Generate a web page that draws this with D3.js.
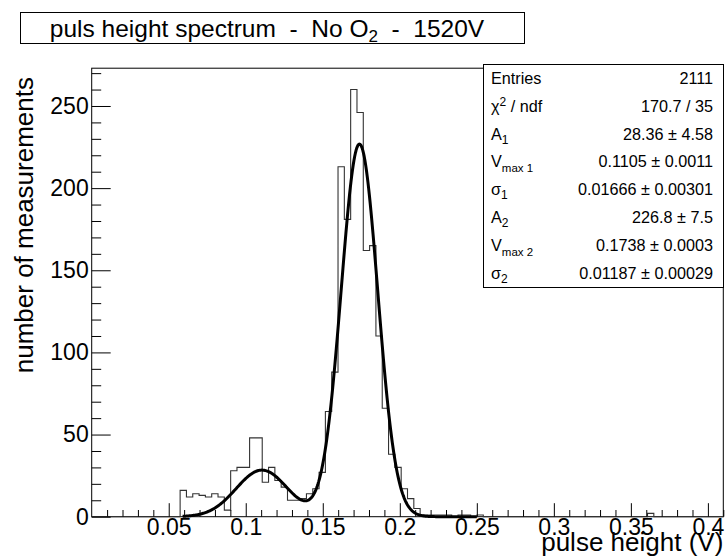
<!DOCTYPE html>
<html><head><meta charset="utf-8">
<script src="https://cdn.jsdelivr.net/npm/d3@7"></script>
<style>
body{margin:0;background:#fff}
svg{display:block}
text{font-family:"Liberation Sans",Arial,Helvetica,sans-serif;fill:#000}
</style>
</head><body>
<svg id="c" width="727" height="560"></svg>
<script>
// ---- data ----
const histLow = 0, histHigh = 0.41, binWidth = 0.0041;
const counts = [
  0,0,0,0,0,0,0,0,0,0,            // 0-9
  0,0,0,0,16,12,14,13,12,14,      // 10-19
  12,4,28,30,30,48,48,21,30,22,   // 20-29
  18,10,10,11,14,17,27,64,88,213, // 30-39
  181,260,246,162,165,110,66,38,30,17, // 40-49
  11,5,1,1,1,1,1,0,1,1,           // 50-59
  0,1,0,0,0,0,0,0,0,0,            // 60-69
  0,0,0,0,0,0,0,0,0,0,            // 70-79
  0,0,0,0,0,0,0,0,2,0,            // 80-89
  0,0,0,0,0,0,0,0,0,0             // 90-99
];
const xTickValues = [0.05,0.1,0.15,0.2,0.25,0.3,0.35,0.4];
const xTickLabels = ["0.05","0.1","0.15","0.2","0.25","0.3","0.35","0.4"];
const yTickValues = [0,50,100,150,200,250];
const yTickLabels = ["0","50","100","150","200","250"];
const yMax = 273;
// fit: double gaussian parameters (from stats box)
const fitAmp = [28.36, 226.8];
const fitMean = [0.1105, 0.1738];
const fitSigma = [0.01666, 0.01187];
const fitRange = [0.059, 0.25];
// stats box rows
const statLabels = ["Entries","chi2","A1","Vmax1","s1","A2","Vmax2","s2"];
const statValues = ["2111","170.7 / 35","28.36 ± 4.58","0.1105 ± 0.0011","0.01666 ± 0.00301","226.8 ± 7.5","0.1738 ± 0.0003","0.01187 ± 0.00029"];
const titleText = ["puls height spectrum  -  No O","2","  -  1520V"];
const xTitle = "pulse height (V)";
const yTitle = "number of measurements";

// ---- layout ----
const L = 91.7, R = 723.3, T = 68.2, B = 516.7;
const svg = d3.select("#c");
const x = d3.scaleLinear().domain([histLow, histHigh]).range([L, R]);
const y = d3.scaleLinear().domain([0, yMax]).range([B, T]);

// frame
svg.append("rect").attr("x", L).attr("y", T).attr("width", R - L).attr("height", B - T)
  .attr("fill", "none").attr("stroke", "#000").attr("stroke-width", 1);

// histogram outline
const pts = [];
counts.forEach((c, i) => {
  const lo = histLow + i * binWidth, hi = lo + binWidth;
  pts.push([lo, c], [hi, c]);
});
svg.append("path")
  .attr("d", d3.line().x(d => x(d[0])).y(d => y(d[1]))(pts))
  .attr("fill", "none").attr("stroke", "#333").attr("stroke-width", 1.1);

// fit curve
const fitX = d3.range(0, 401).map(k => fitRange[0] + (fitRange[1] - fitRange[0]) * k / 400);
const fitF = v => fitAmp.reduce((s, a, j) => s + a * Math.exp(-Math.pow(v - fitMean[j], 2) / (2 * fitSigma[j] * fitSigma[j])), 0);
svg.append("path")
  .attr("d", d3.line().x(d => x(d)).y(d => y(fitF(d)))(fitX))
  .attr("fill", "none").attr("stroke", "#000").attr("stroke-width", 3).attr("stroke-linejoin", "round");

// axes
const fs = 23;
const xMinor = d3.range(1, 42).map(k => k / 100).filter(v => v <= histHigh + 1e-9 && Math.abs(v * 20 - Math.round(v * 20)) > 1e-6);
const yMinor = d3.range(0, yMax, 10).filter(v => v % 50 !== 0);

const gx = svg.append("g").attr("transform", `translate(0,${B})`)
  .call(d3.axisBottom(x).tickValues(xTickValues).tickFormat((d, i) => xTickLabels[i]).tickSizeInner(-13.5).tickSizeOuter(0).tickPadding(2));
gx.select(".domain").remove();
gx.selectAll("text").attr("font-size", fs).attr("font-family", '"Liberation Sans",Arial,sans-serif');
const gxm = svg.append("g").attr("transform", `translate(0,${B})`)
  .call(d3.axisBottom(x).tickValues(xMinor).tickFormat("").tickSizeInner(-6.7).tickSizeOuter(0));
gxm.select(".domain").remove();

const gy = svg.append("g").attr("transform", `translate(${L},0)`)
  .call(d3.axisLeft(y).tickValues(yTickValues).tickFormat((d, i) => yTickLabels[i]).tickSizeInner(-19).tickSizeOuter(0).tickPadding(3));
gy.select(".domain").remove();
gy.selectAll("text").attr("font-size", fs).attr("font-family", '"Liberation Sans",Arial,sans-serif');
const gym = svg.append("g").attr("transform", `translate(${L},0)`)
  .call(d3.axisLeft(y).tickValues(yMinor).tickFormat("").tickSizeInner(-9.5).tickSizeOuter(0));
gym.select(".domain").remove();
svg.selectAll(".tick line").attr("stroke", "#000").attr("stroke-width", 1);

// axis titles
svg.append("text").attr("x", R).attr("y", 551).attr("text-anchor", "end").attr("font-size", 26).text(xTitle);
svg.append("text").attr("transform", `translate(33,77) rotate(-90)`).attr("text-anchor", "end").attr("font-size", 26).text(yTitle);

// title box
svg.append("rect").attr("x", 20.5).attr("y", 12.5).attr("width", 504).attr("height", 31)
  .attr("fill", "#fff").attr("stroke", "#000").attr("stroke-width", 1);
const tt = svg.append("text").attr("x", 267).attr("y", 37).attr("text-anchor", "middle")
  .attr("font-size", 24.5).style("white-space", "pre").attr("xml:space", "preserve");
tt.append("tspan").text(titleText[0]);
tt.append("tspan").attr("font-size", 17).attr("dy", 5).text(titleText[1]);
tt.append("tspan").attr("dy", -5).text(titleText[2]);

// stats box
const sb = {x0: 483, x1: 723, y0: 64, y1: 287};
svg.append("rect").attr("x", sb.x0 + 0.5).attr("y", sb.y0 + 0.5).attr("width", sb.x1 - sb.x0).attr("height", sb.y1 - sb.y0)
  .attr("fill", "#fff").attr("stroke", "#000").attr("stroke-width", 1);
const sfs = 16.2, subfs = 12, rowH = (sb.y1 - sb.y0) / statLabels.length;
statLabels.forEach((lab, i) => {
  const by = sb.y0 + rowH * i + rowH * 0.5 + sfs * 0.36;
  const t = svg.append("text").attr("x", sb.x0 + 8).attr("y", by).attr("font-size", sfs);
  if (lab === "Entries") t.text("Entries");
  else if (lab === "chi2") { t.append("tspan").text("χ"); t.append("tspan").attr("font-size", subfs).attr("dy", -6).text("2"); t.append("tspan").attr("dy", 6).text(" / ndf"); }
  else if (lab[0] === "A") { t.append("tspan").text("A"); t.append("tspan").attr("font-size", subfs).attr("dy", 4).text(lab[1]); }
  else if (lab[0] === "V") { t.append("tspan").text("V"); t.append("tspan").attr("font-size", 11.5).attr("dy", 5).text("max " + lab[4]); }
  else { t.append("tspan").text("σ"); t.append("tspan").attr("font-size", subfs).attr("dy", 4).text(lab[1]); }
  svg.append("text").attr("x", sb.x1 - 10).attr("y", by).attr("text-anchor", "end").attr("font-size", sfs).text(statValues[i]);
});
</script>
</body></html>
